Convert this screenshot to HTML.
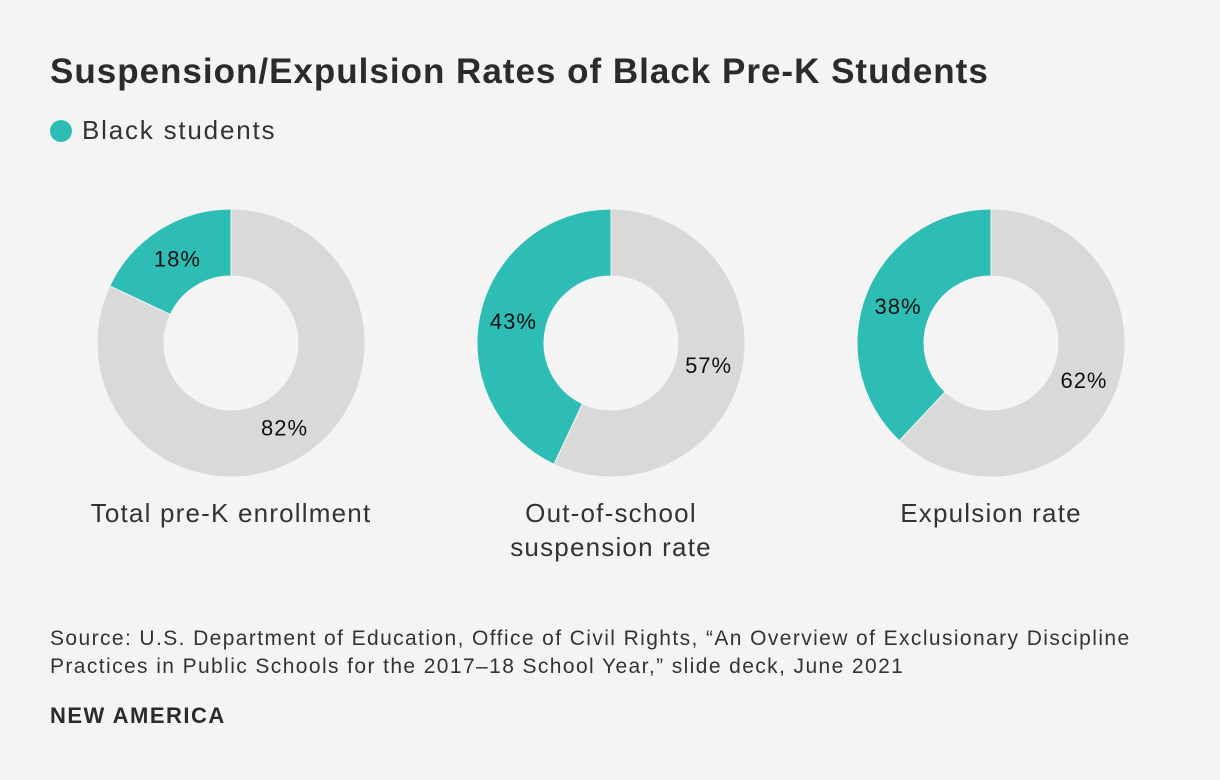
<!DOCTYPE html>
<html><head><meta charset="utf-8"><style>
body{margin:0;background:#f4f4f4;font-family:"Liberation Sans",sans-serif;color:#333;}
#wrap{position:relative;width:1220px;height:780px;overflow:hidden;background:#f4f4f4}
.t{position:absolute;white-space:nowrap}
</style></head><body>
<div id="wrap">
<div class="t" style="left:50px;top:52px;font-size:35px;letter-spacing:1px;font-weight:bold;color:#2b2b2b">Suspension/Expulsion Rates of Black Pre-K Students</div>
<div class="t" style="left:50px;top:115px;font-size:26px;letter-spacing:1.8px;color:#333"><span style="display:inline-block;width:22px;height:22px;border-radius:50%;background:#2ebdb4;vertical-align:-3px;margin-right:10px"></span>Black students</div>
<svg id="chart" width="1220" height="600" style="position:absolute;left:0;top:0"></svg>
<div class="t" style="left:50px;top:625px;font-size:21px;letter-spacing:1.4px;line-height:28px;color:#333">Source: U.S. Department of Education, Office of Civil Rights, “An Overview of Exclusionary Discipline<br>Practices in Public Schools for the 2017–18 School Year,” slide deck, June 2021</div>
<div class="t" style="left:50px;top:703px;font-size:22px;letter-spacing:1.5px;font-weight:bold;color:#2b2b2b">NEW AMERICA</div>
</div>
<script>
const categories=[["Total pre-K enrollment"],["Out-of-school","suspension rate"],["Expulsion rate"]];
const blackValues=[18,43,38];
const otherValues=[82,57,62];
const svg=document.getElementById('chart');
const NS='http://www.w3.org/2000/svg';
const R=134,r=67,cy=343;
function cx(i){return 231+i*380;}
function pt(x,y,rad,deg){const a=deg*Math.PI/180;return [x+rad*Math.sin(a),y-rad*Math.cos(a)];}
function arc(x,a0,a1){
  const large=Math.abs(a1-a0)>180?1:0, sw=a1>a0?1:0;
  const p0=pt(x,cy,R,a0),p1=pt(x,cy,R,a1),q1=pt(x,cy,r,a1),q0=pt(x,cy,r,a0);
  return `M${p0} A${R},${R} 0 ${large} ${sw} ${p1} L${q1} A${r},${r} 0 ${large} ${1-sw} ${q0} Z`;
}
categories.forEach((cat,i)=>{
  const x=cx(i),b=blackValues[i]*3.6,o=otherValues[i]*3.6;
  const g=document.createElementNS(NS,'path');
  g.setAttribute('d',arc(x,0,o));g.setAttribute('fill','#d9d9d9');g.setAttribute('stroke','#f4f4f4');g.setAttribute('stroke-width','1');
  
  
  svg.appendChild(g);
  const t=document.createElementNS(NS,'path');
  t.setAttribute('d',arc(x,0,-b));t.setAttribute('fill','#2ebdb4');t.setAttribute('stroke','#f4f4f4');t.setAttribute('stroke-width','1');
  
  
  svg.appendChild(t);
  [[-b/2,blackValues[i]],[o/2,otherValues[i]]].forEach(([ang,v],k)=>{
    const p=pt(x,cy,100,ang);
    const tx=document.createElementNS(NS,'text');
    tx.setAttribute('x',p[0]);tx.setAttribute('y',p[1]+8);tx.setAttribute('text-anchor','middle');
    tx.setAttribute('font-size','22');tx.setAttribute('letter-spacing','1');tx.setAttribute('fill','#111');tx.setAttribute('font-family','Liberation Sans, sans-serif');
    tx.textContent=v+'%';
    
    
    svg.appendChild(tx);
  });
  cat.forEach((line,j)=>{
    const tx=document.createElementNS(NS,'text');
    tx.setAttribute('x',x);tx.setAttribute('y',522+j*34);tx.setAttribute('text-anchor','middle');
    tx.setAttribute('font-size','26');tx.setAttribute('letter-spacing','1.2');tx.setAttribute('fill','#333');tx.setAttribute('font-family','Liberation Sans, sans-serif');
    tx.textContent=line;
    
    
    svg.appendChild(tx);
  });
});
</script>
</body></html>
